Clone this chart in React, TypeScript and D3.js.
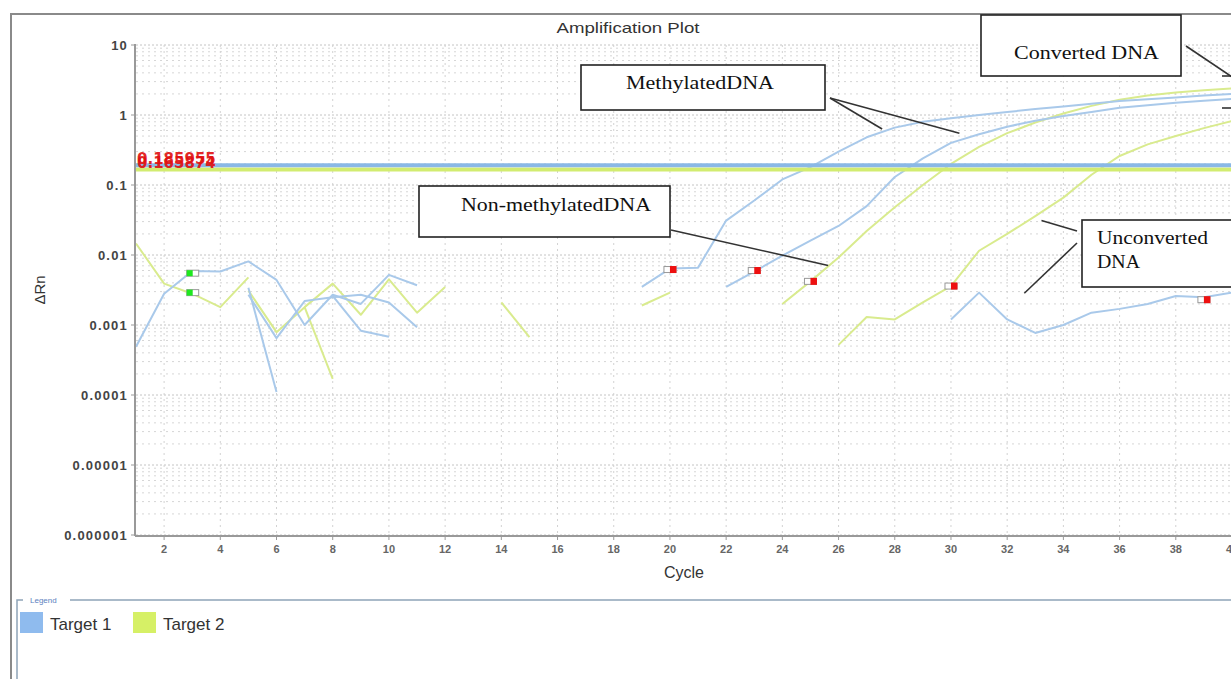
import React from 'react';
import * as d3 from 'd3';

const W = 1231;
const H = 679;

// axis ticks
const xTicks = d3.range(2, 41, 2);
const yTickValues = [10, 1, 0.1, 0.01, 0.001, 0.0001, 0.00001, 0.000001];
const yTickLabels = ['10', '1', '0.1', '0.01', '0.001', '0.0001', '0.00001', '0.000001'];

// Target 1 (blue) runs: first cycle + dRn per cycle
const t1RunA = [0.00049, 0.0028, 0.0059, 0.0058, 0.0081, 0.0044, 0.001, 0.0027, 0.002, 0.0052, 0.0037];
const t1RunB = [0.0027, 0.00065, 0.0022, 0.0025, 0.0027, 0.0021, 0.00093];
const t1RunC = [0.0034, 0.00011];
const t1RunD = [0.0026, 0.00083, 0.00068];
const t1RunE = [0.0035, 0.0064, 0.0066, 0.031, 0.06, 0.12, 0.18, 0.3, 0.48, 0.66, 0.8, 0.9, 1.0, 1.1, 1.22, 1.32, 1.45, 1.58, 1.68, 1.78, 1.9, 2.0];
const t1RunF = [0.0035, 0.0058, 0.0098, 0.016, 0.026, 0.05, 0.13, 0.24, 0.4, 0.53, 0.68, 0.83, 0.97, 1.1, 1.27, 1.38, 1.5, 1.6, 1.7];
const t1RunG = [0.0012, 0.0029, 0.0012, 0.00077, 0.001, 0.0015, 0.0017, 0.002, 0.0026, 0.0025, 0.0029];
const t1Starts = [1, 5, 5, 8, 19, 22, 30];

// Target 2 (green) runs
const t2RunA = [0.0146, 0.0039, 0.0028, 0.0018, 0.0048];
const t2RunB = [0.0031, 0.00079, 0.0018, 0.0039, 0.0014, 0.0045, 0.0015, 0.0035];
const t2RunC = [0.0018, 0.00017];
const t2RunD = [0.0021, 0.00067];
const t2RunE = [0.0019, 0.0029];
const t2RunF = [0.002, 0.0042, 0.0092, 0.022, 0.048, 0.1, 0.2, 0.35, 0.55, 0.78, 1.05, 1.35, 1.65, 1.9, 2.1, 2.25, 2.4];
const t2RunG = [0.00052, 0.0013, 0.0012, 0.0021, 0.0036, 0.0115, 0.02, 0.036, 0.066, 0.14, 0.26, 0.38, 0.5, 0.65, 0.82];
const t2Starts = [1, 5, 7, 14, 19, 24, 26];

const thresholdValues = [0.185955, 0.165874];
const thresholdLabels = ['0.185955', '0.165874'];

// baseline start markers (green) and Ct markers (red): [cycle, dRn]
const startMarkers = [[3, 0.0055], [3, 0.0029]];
const ctMarkers = [[20, 0.0062], [23, 0.006], [25, 0.0042], [30, 0.0036], [39, 0.0023]];

const legendNames = ['Target 1', 'Target 2'];

const colors = {
  t1: '#a9c9ea',
  t2: '#d9eb8e',
  thr1: '#8ab8e6',
  thr2: '#d2ec70',
  leg1: '#8fbbee',
  leg2: '#d6f066'
};

const x = d3.scaleLinear().domain([1, 40]).range([136, 1232]);
const y = d3.scaleLog().domain([1e-6, 10]).range([535, 45]);

// callout pointers end on the curves (cycle, dRn)
const callouts = [
  { lines: ['MethylatedDNA'], box: [581, 65, 244, 45], text: [[626, 89, 148]], from: [[830, 98], [830, 98]], to: [[27.55, 0.63], [30.3, 0.55]] },
  { lines: ['Non-methylatedDNA'], box: [419, 186, 251, 51], text: [[461, 211, 190]], from: [[671, 230]], to: [[25.63, 0.0071]] },
  { lines: ['Converted DNA'], box: [981, 15, 200, 61], text: [[1014, 59, 145]], from: [[1186, 46]], to: [[40.05, 3.4]] },
  { lines: ['Unconverted', 'DNA'], box: [1082, 220, 160, 67], text: [[1097, 244, 111], [1097, 268, 43]], from: [[1077, 231], [1077, 243]], to: [[33.22, 0.031], [32.61, 0.00284]] }
];

function runs(list: number[][], starts: number[]) {
  return list.map((vals, k) => vals.map((v, i) => [starts[k] + i, v] as [number, number]));
}

const line = d3.line<[number, number]>().x(d => x(d[0])).y(d => y(d[1]));

export default function App() {
  const t1 = runs([t1RunA, t1RunB, t1RunC, t1RunD, t1RunE, t1RunF, t1RunG], t1Starts);
  const t2 = runs([t2RunA, t2RunB, t2RunC, t2RunD, t2RunE, t2RunF, t2RunG], t2Starts);
  const minor = y.ticks();
  const [x0, x1] = x.range();
  const [yb, yt] = y.range();
  const sans = 'Liberation Sans, Arial, sans-serif';
  const serif = 'Liberation Serif, Times New Roman, serif';

  return (
    <svg width={W} height={H} style={{ position: 'absolute', left: 0, top: 0, background: '#fff' }}>
      <defs>
        <clipPath id="plot">
          <rect x={x0} y={yt} width={x1 - x0} height={yb - yt} />
        </clipPath>
      </defs>
      <rect width={W} height={H} fill="#fff" />
      {/* outer frame */}
      <path d={`M11,${H} V14 H${W}`} fill="none" stroke="#8a8a8a" strokeWidth={2} />
      <text x={628} y={33} textAnchor="middle" fontFamily={sans} fontSize={15} fill="#333" textLength={143} lengthAdjust="spacingAndGlyphs">Amplification Plot</text>

      {/* grid */}
      <g>
        {minor.map((t, i) => {
          const major = Math.abs(Math.log10(t) - Math.round(Math.log10(t))) < 1e-6;
          return (
            <line key={'h' + i} x1={x0} x2={x1} y1={y(t)} y2={y(t)} stroke={major ? '#c4c4c4' : '#d6d6d6'}
              strokeWidth={1} strokeDasharray={major ? '2,2' : '2,4'} />
          );
        })}
        {xTicks.map(t => (
          <line key={'v' + t} x1={x(t)} x2={x(t)} y1={yt} y2={yb} stroke="#d2d2d2" strokeDasharray="2,4" />
        ))}
      </g>

      {/* axes */}
      <line x1={x0 - 1} x2={x0 - 1} y1={yt - 1} y2={yb + 1} stroke="#999" strokeWidth={2} />
      <line x1={x0 - 1} x2={x1} y1={yb + 1} y2={yb + 1} stroke="#999" strokeWidth={2} />
      {yTickValues.map((t, i) => (
        <g key={'yt' + i}>
          <line x1={x0 - 5} x2={x0 - 1} y1={y(t)} y2={y(t)} stroke="#999" />
          <text x={128} y={y(t) + 4.5} textAnchor="end" fontFamily={sans} fontWeight="bold" fontSize={13}
            letterSpacing={1.2} fill="#444">{yTickLabels[i]}</text>
        </g>
      ))}
      {xTicks.map(t => (
        <g key={'xt' + t}>
          <line x1={x(t)} x2={x(t)} y1={yb + 1} y2={yb + 5} stroke="#999" />
          <text x={x(t)} y={553} textAnchor="middle" fontFamily={sans} fontSize={11} fontWeight="bold" fill="#666">{t}</text>
        </g>
      ))}
      <text x={684} y={578} textAnchor="middle" fontFamily={sans} fontSize={16} fill="#333">Cycle</text>
      <text transform="translate(45,290) rotate(-90)" textAnchor="middle" fontFamily={sans} fontSize={15} fill="#333">ΔRn</text>

      {/* curves */}
      <g clipPath="url(#plot)" fill="none" strokeWidth={2} strokeLinejoin="round">
        {t2.map((r, i) => <path key={'g' + i} d={line(r) || ''} stroke={colors.t2} />)}
        {t1.map((r, i) => <path key={'b' + i} d={line(r) || ''} stroke={colors.t1} />)}
      </g>

      {/* thresholds */}
      <line x1={x0} x2={x1} y1={y(thresholdValues[1])} y2={y(thresholdValues[1])} stroke={colors.thr2} strokeWidth={4} />
      <line x1={x0} x2={x1} y1={y(thresholdValues[0]) - 1} y2={y(thresholdValues[0]) - 1} stroke={colors.thr1} strokeWidth={4} />
      {thresholdValues.map((t, i) => (
        <text key={'tl' + i} x={x0 + 1} y={y(t) - 2 - i * 0} fontFamily="DejaVu Sans, sans-serif" fontWeight="bold"
          fontSize={15} fill="#e01010" opacity={0.9}>{thresholdLabels[i]}</text>
      ))}

      {/* markers */}
      {startMarkers.map((m, i) => (
        <g key={'sm' + i}>
          <rect x={x(m[0]) - 5.5} y={y(m[1]) - 3} width={12} height={6} fill="#fff" stroke="#999" />
          <rect x={x(m[0]) - 5.5} y={y(m[1]) - 3} width={6} height={6} fill="#1ee81e" />
        </g>
      ))}
      {ctMarkers.map((m, i) => (
        <g key={'cm' + i}>
          <rect x={x(m[0]) - 6} y={y(m[1]) - 3} width={12} height={6} fill="#fff" stroke="#999" />
          <rect x={x(m[0])} y={y(m[1]) - 3.5} width={6.5} height={7} fill="#ee1010" />
        </g>
      ))}

      {/* callouts */}
      {callouts.map((c, i) => (
        <g key={'co' + i}>
          {c.from.map((f, j) => (
            <line key={j} x1={f[0]} y1={f[1]} x2={x(c.to[j][0])} y2={y(c.to[j][1])} stroke="#333" strokeWidth={1.6} />
          ))}
          <rect x={c.box[0]} y={c.box[1]} width={c.box[2]} height={c.box[3]} fill="#fff" stroke="#222" strokeWidth={1.6} />
          {c.lines.map((t, j) => (
            <text key={j} x={c.text[j][0]} y={c.text[j][1]} fontFamily={serif} fontSize={18} fill="#111"
              textLength={c.text[j][2]} lengthAdjust="spacingAndGlyphs">{t}</text>
          ))}
        </g>
      ))}
      <line x1={1222} x2={W} y1={76} y2={76} stroke="#333" strokeWidth={1.6} />
      <line x1={1222} x2={W} y1={108} y2={108} stroke="#333" strokeWidth={1.6} />

      {/* legend */}
      <path d={`M17,${H} V600 H23 M70,600 H${W}`} fill="none" stroke="#8ea4b8" strokeWidth={1.5} />
      <text x={30} y={603} fontFamily={sans} fontSize={8} fill="#5b7fc0">Legend</text>
      {legendNames.map((n, i) => (
        <g key={n} transform={`translate(${20 + i * 113},612)`}>
          <rect width={23} height={21} fill={i === 0 ? colors.leg1 : colors.leg2} />
          <text x={30} y={18} fontFamily={sans} fontSize={17} fill="#333">{n}</text>
        </g>
      ))}
    </svg>
  );
}
